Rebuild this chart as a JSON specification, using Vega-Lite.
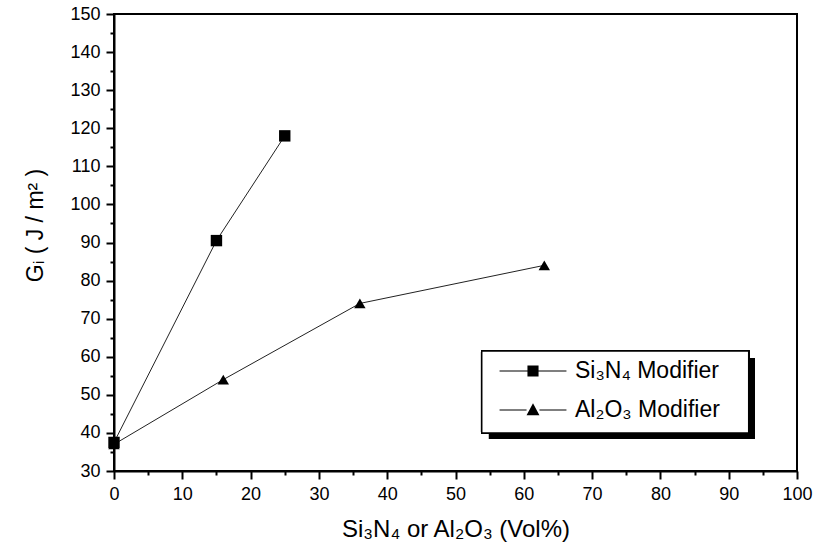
{
  "$schema": "https://vega.github.io/schema/vega-lite/v6.json",
  "autosize": {"type": "none"},
  "padding": {"left": 114, "top": 14, "right": 18, "bottom": 80},
  "width": 683,
  "height": 457,
  "background": "white",
  "config": {
    "font": "Liberation Sans",
    "view": {"stroke": "black", "strokeWidth": 2},
    "axis": {
      "domainColor": "black", "domainWidth": 2, "tickColor": "black", "tickWidth": 2,
      "tickSize": 8, "labelFont": "Liberation Sans", "labelFontSize": 18, "labelColor": "black",
      "titleFont": "Liberation Sans", "titleFontSize": 23, "titleFontWeight": "normal", "titleColor": "black",
      "grid": false, "labelPadding": 6, "labelOverlap": false, "labelFlush": false
    }
  },
  "data": {
    "values": [
      {"series": "Si₃N₄ Modifier", "x": 0, "y": 37.5},
      {"series": "Si₃N₄ Modifier", "x": 15, "y": 90.5},
      {"series": "Si₃N₄ Modifier", "x": 25, "y": 118},
      {"series": "Al₂O₃ Modifier", "x": 0, "y": 37},
      {"series": "Al₂O₃ Modifier", "x": 16, "y": 54},
      {"series": "Al₂O₃ Modifier", "x": 36, "y": 74},
      {"series": "Al₂O₃ Modifier", "x": 63, "y": 84}
    ]
  },
  "resolve": {"scale": {"shape": "independent"}, "axis": {"x": "independent", "y": "independent"}},
  "layer": [
    {
      "mark": {"type": "rect", "color": "black"},
      "encoding": {
        "x": {"datum": 54.9, "type": "quantitative", "scale": {"domain": [0, 100], "nice": false},
          "axis": {"orient": "bottom", "values": [5,15,25,35,45,55,65,75,85,95], "tickSize": 4, "labels": false, "domain": false, "title": null}},
        "x2": {"datum": 93.85},
        "y": {"datum": 59.66, "type": "quantitative", "scale": {"domain": [30, 150], "nice": false},
          "axis": {"orient": "left", "values": [35,45,55,65,75,85,95,105,115,125,135,145], "tickSize": 4, "labels": false, "domain": false, "title": null}},
        "y2": {"datum": 38.39}
      }
    },
    {
      "mark": {"type": "rect", "fill": "white", "stroke": "black", "strokeWidth": 1.5},
      "encoding": {
        "x": {"datum": 53.84, "type": "quantitative", "axis": null},
        "x2": {"datum": 92.93},
        "y": {"datum": 61.5, "type": "quantitative", "axis": null},
        "y2": {"datum": 39.97}
      }
    },
    {
      "mark": {"type": "line", "color": "#222", "strokeWidth": 1},
      "encoding": {
        "x": {"field": "x", "type": "quantitative",
          "axis": {"orient": "bottom", "values": [0,10,20,30,40,50,60,70,80,90,100],
            "title": "Si₃N₄ or Al₂O₃ (Vol%)", "titlePadding": 14, "titleFontSize": 24}},
        "y": {"field": "y", "type": "quantitative",
          "axis": {"orient": "left", "values": [30,40,50,60,70,80,90,100,110,120,130,140,150],
            "title": "Gᵢ ( J / m² )", "titlePadding": 22, "titleY": 211}},
        "detail": {"field": "series"}
      }
    },
    {
      "mark": {"type": "point", "filled": true, "color": "black", "opacity": 1, "size": 130},
      "encoding": {
        "x": {"field": "x", "type": "quantitative", "axis": null},
        "y": {"field": "y", "type": "quantitative", "axis": null},
        "shape": {"field": "series", "type": "nominal",
          "scale": {"domain": ["Si₃N₄ Modifier", "Al₂O₃ Modifier"], "range": ["square", "triangle-up"]},
          "legend": null}
      }
    },
    {
      "transform": [{"filter": "datum.x < -1000"}],
      "mark": {"type": "point", "filled": true, "color": "black", "opacity": 1},
      "encoding": {
        "x": {"field": "x", "type": "quantitative", "axis": null},
        "y": {"field": "y", "type": "quantitative", "axis": null},
        "shape": {"field": "series", "type": "nominal",
          "scale": {"domain": ["Si₃N₄ Modifier", "Al₂O₃ Modifier"],
            "range": ["M-2.23,-0.035H-0.37V0.035H-2.23ZM0.37,-0.035H2.23V0.035H0.37ZM-0.37,-0.37H0.37V0.37H-0.37Z", "M-2.23,-0.035H-0.43V0.035H-2.23ZM0.43,-0.035H2.23V0.035H0.43ZM0,-0.45L0.43,0.35L-0.43,0.35Z"]},
          "legend": {
            "title": null, "orient": "none", "legendX": 403, "legendY": 341,
            "padding": 0, "symbolOffset": 0,
            "labelFont": "Liberation Sans", "labelFontSize": 23, "labelColor": "black",
            "symbolSize": 900, "rowPadding": 11, "labelOffset": 26,
            "symbolFillColor": "black", "symbolOpacity": 1
          }}
      }
    }
  ]
}
